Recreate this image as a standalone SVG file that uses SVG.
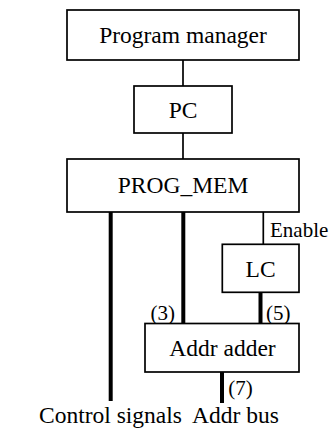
<svg xmlns="http://www.w3.org/2000/svg" width="329" height="429" viewBox="0 0 329 429">
  <style>
    .box { fill: #fff; stroke: #000; stroke-width: 1.7; }
    .lbl { fill: #000; }
    .thin { stroke: #000; stroke-width: 1.7; fill: none; }
    .bus { stroke: #000; stroke-width: 4; fill: none; }
  </style>
  <rect width="329" height="429" fill="#fff"/>

  <!-- connectors -->
  <g id="connectors">
    <line class="thin" x1="183" y1="60" x2="183" y2="86"/>
    <line class="thin" x1="183" y1="133" x2="183" y2="159"/>
    <line class="thin" x1="263.3" y1="212" x2="263.3" y2="244"/>
    <line class="bus" x1="110.7" y1="212" x2="110.7" y2="401"/>
    <line class="bus" x1="183.3" y1="212" x2="183.3" y2="323"/>
    <line class="bus" x1="260.5" y1="292" x2="260.5" y2="323"/>
    <line class="bus" x1="222" y1="372" x2="222" y2="403"/>
    <text class="lbl" font-family="Liberation Serif" font-size="21" x="270" y="236.7">Enable</text>
    <text class="lbl" font-family="Liberation Serif" font-size="21" x="150.5" y="320">(3)</text>
    <text class="lbl" font-family="Liberation Serif" font-size="21" x="266" y="320">(5)</text>
    <text class="lbl" font-family="Liberation Serif" font-size="21" x="228.3" y="395">(7)</text>
  </g>

  <g id="program-manager">
    <rect class="box" x="67" y="10" width="232" height="50"/>
    <text class="lbl" font-family="Liberation Serif" font-size="23.5" text-anchor="middle" x="183" y="43.3">Program manager</text>
  </g>

  <g id="pc">
    <rect class="box" x="134" y="86" width="98" height="47"/>
    <text class="lbl" font-family="Liberation Serif" font-size="23.5" text-anchor="middle" x="183" y="118">PC</text>
  </g>

  <g id="prog-mem">
    <rect class="box" x="67" y="159" width="232" height="53"/>
    <text class="lbl" font-family="Liberation Serif" font-size="23.5" text-anchor="middle" x="183" y="193">PROG_MEM</text>
  </g>

  <g id="lc">
    <rect class="box" x="222.3" y="244.3" width="76.7" height="48"/>
    <text class="lbl" font-family="Liberation Serif" font-size="23.5" text-anchor="middle" x="260.6" y="276.7">LC</text>
  </g>

  <g id="addr-adder">
    <rect class="box" x="145" y="323.5" width="154" height="48.5"/>
    <text class="lbl" font-family="Liberation Serif" font-size="23.5" text-anchor="middle" x="222.5" y="356">Addr adder</text>
  </g>

  <g id="control-signals">
    <text class="lbl" font-family="Liberation Serif" font-size="23.5" text-anchor="middle" x="110.5" y="422.5">Control signals</text>
  </g>

  <g id="addr-bus">
    <text class="lbl" font-family="Liberation Serif" font-size="23.5" text-anchor="middle" x="235.5" y="422.5">Addr bus</text>
  </g>
</svg>
